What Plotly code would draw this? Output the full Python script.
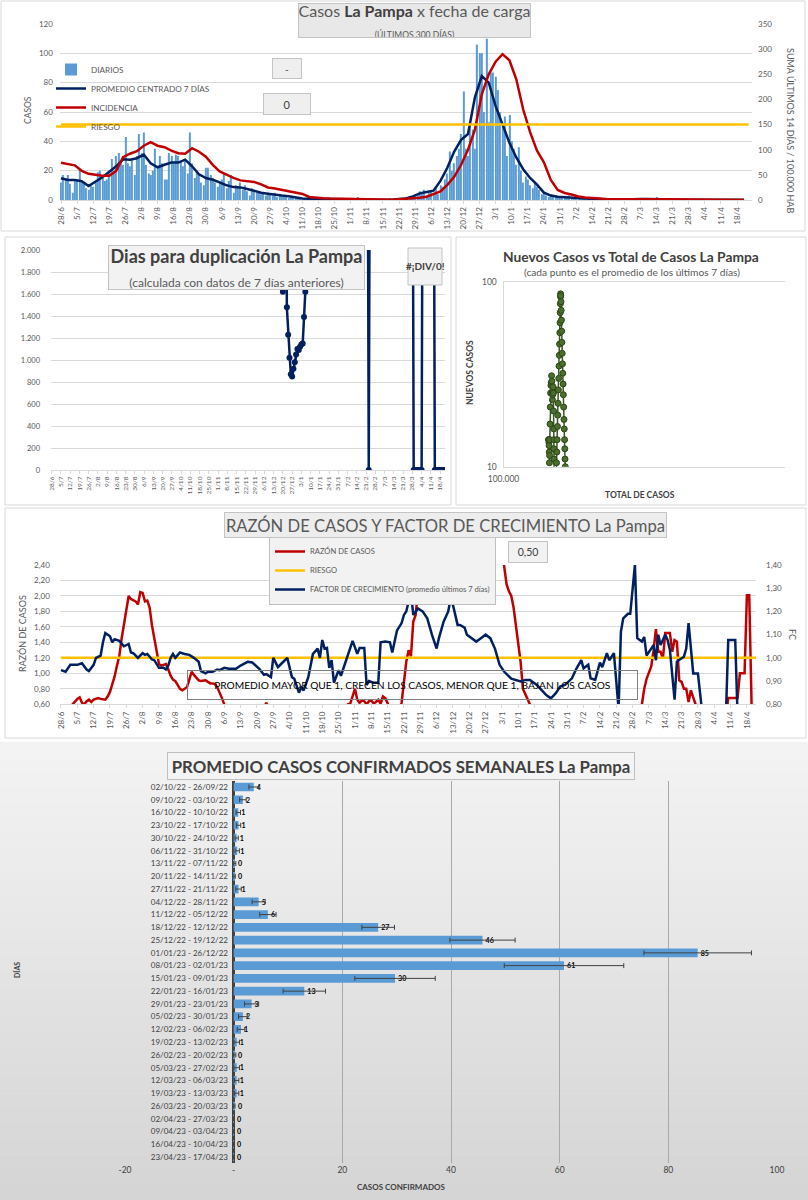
import plotly.graph_objects as go

W, H = 808, 1200
FONT = "Lato"
GREY = "#595959"
DARK = "#404040"
NAVY = "#002060"
RED = "#c00000"
ORANGE = "#ffc000"
BAR_BLUE = "#5b9bd5"
GRID = "#d9d9d9"


def fx(p):
    return p / W


def fy(p):
    return 1 - p / H


# ------------------------------------------------------------------ data
TICK_LABELS = ["28/6", "5/7", "12/7", "19/7", "26/7", "2/8", "9/8", "16/8", "23/8", "30/8",
               "6/9", "13/9", "20/9", "27/9", "4/10", "11/10", "18/10", "25/10", "1/11", "8/11",
               "15/11", "22/11", "29/11", "6/12", "13/12", "20/12", "27/12", "3/1", "10/1", "17/1",
               "24/1", "31/1", "7/2", "14/2", "21/2", "28/2", "7/3", "14/3", "21/3", "28/3",
               "4/4", "11/4", "18/4"]
TICK_DAYS = [7 * i for i in range(len(TICK_LABELS))]

# daily cases (one value per day from 28/6)
DAILY = [
    12, 17, 15, 17, 11, 5, 14,
    13, 21, 12, 11, 8, 7, 10,
    9, 12, 19, 20, 15, 13, 14,
    20, 28, 20, 30, 32, 27, 24,
    43, 25, 23, 28, 17, 30, 45,
    32, 46, 24, 18, 17, 20, 35,
    22, 30, 25, 14, 14, 32, 30,
    26, 31, 30, 26, 23, 28, 18,
    46, 25, 15, 20, 17, 12, 10,
    22, 22, 17, 15, 12, 9, 12,
    14, 18, 8, 13, 17, 5, 10,
    9, 12, 7, 10, 6, 3, 8,
    7, 5, 6, 4, 5, 3, 5,
    4, 3, 5, 2, 4, 3, 2,
    2, 1, 3, 2, 1, 2, 1,
    1, 1, 0, 2, 1, 1, 1,
    1, 2, 0, 1, 1, 1, 0,
    1, 0, 1, 1, 0, 1, 1,
    0, 1, 1, 2, 0, 1, 0,
    0, 0, 1, 0, 0, 0, 0,
    0, 0, 0, 1, 0, 0, 0,
    1, 0, 1, 2, 1, 1, 2,
    3, 4, 6, 5, 7, 3, 5,
    6, 5, 8, 4, 10, 9, 14,
    18, 33, 20, 25, 30, 35, 45,
    74, 35, 30, 52, 48, 35, 106,
    100, 100, 60, 110, 53, 87, 87,
    84, 75, 60, 50, 57, 30, 58,
    40, 35, 24, 36, 20, 12, 16,
    14, 10, 8, 12, 9, 7, 4,
    5, 3, 2, 4, 2, 3, 2,
    1, 2, 2, 1, 3, 1, 1,
    1, 2, 1, 1, 1, 2, 0,
    1, 0, 1, 1, 0, 1, 0,
    0, 0, 0, 0, 0, 0, 1,
    0, 1, 0, 1, 0, 1, 0,
    1, 0, 1, 0, 1, 0, 1,
    2, 0, 1, 0, 0, 0, 0,
    0, 0, 0, 0, 0, 0, 0,
    0, 0, 0, 0, 0, 0, 0,
    0, 0, 0, 0, 0, 0, 0,
    0, 0, 0, 0, 0, 0, 0,
    0, 0, 0, 0, 0, 0,
]
DAYS = list(range(len(DAILY)))

# centred 7-day average, read every 3 days
LINE_DAYS = list(range(0, 300, 3))
AVG7 = [
    14.8, 13.6, 13.6, 12.8, 9.5, 12.5, 15.5, 19.3, 23.0, 27.7,
    27.5, 28.5, 31.0, 25.0, 22.3, 24.0, 25.5, 25.5, 27.5, 23.0,
    17.5, 15.0, 13.8, 12.0, 10.0, 8.8, 8.6, 7.5, 6.2, 5.0,
    4.3, 3.5, 3.0, 2.6, 1.8, 1.1, 0.8, 0.8, 0.9, 0.8,
    0.7, 0.6, 0.7, 0.6, 0.4, 0.2, 0.2, 0.1, 0.2, 0.7,
    1.0, 2.5, 4.5, 5.5, 6.4, 13.0, 22.0, 33.0, 41.0, 45.0,
    70.0, 84.5, 80.0, 64.0, 52.0, 39.0, 29.0, 21.0, 15.0, 10.5,
    5.0, 3.0, 2.2, 1.8, 1.7, 1.2, 1.0, 0.8, 0.5, 0.2,
    0.1, 0.2, 0.5, 0.6, 0.6, 0.6, 0.7, 0.5, 0.3, 0.1,
    0.1, 0.1, 0.1, 0.1, 0.1, 0.1, 0.1, 0.1, 0.1, 0.1,
]
# incidence (14-day sum per 100.000 inhabitants), every 3 days
INCIDENCIA = [
    74, 71, 69, 58, 52, 50, 48, 48, 58, 85,
    92, 97, 108, 115, 108, 105, 98, 93, 92, 103,
    96, 86, 70, 57, 50, 44, 39, 38, 36, 31,
    25, 23, 20, 18, 15, 12, 6, 4.4, 3.5, 2.9,
    2.6, 2.3, 2.3, 2.0, 1.7, 1.2, 0.6, 0.3, 0.6, 1.5,
    2.0, 3.0, 4.5, 6.5, 11, 17, 30, 46, 70, 100,
    140, 210, 250, 275, 290, 278, 240, 180, 135, 98,
    75, 40, 20, 14, 11, 7, 5, 3.5, 2.5, 2.0,
    1.5, 1.3, 1.3, 1.3, 1.3, 1.5, 1.5, 1.5, 1.5, 1.5,
    1.3, 1.0, 0.5, 0.3, 0.2, 0.2, 0.2, 0.2, 0.2, 0.2,
]
RIESGO_INC = 150

# days for doubling (values above 2.000 fall outside the chart)
DUP_DAYS = [175, 176, 177, 178, 179, 180, 181, 182, 183, 184, 185, 186, 187, 188, 189, 190, 191, 192, 193,
            239, 240, 241,
            273, 274, 275, 276, 277, 278, 279, 280, 281,
            289, 290, 291, 292, 293, 294, 295, 296, 297]
DUP_VALS = [1620, 4000, 4000, 1480, 1230, 1020, 870, 850, 920, 980, 1050, 1100, 1090, 1120, 1140, 1150, 1390, 1620, 4000,
            4000, 0, 4000,
            4000, 0, 0, 0, 0, 0, 0, 0, 4000,
            4000, 0, 0, 0, 0, 0, 0, 0, 0]

# new cases vs total cases (7-day averages)
SC_TOTAL = [144600, 144800, 145000, 145200, 145400, 145600, 145800, 146000, 146300, 146600,
            147000, 147400, 147800, 148200, 148600, 148900, 149200, 149500, 149800, 150100,
            150400, 150600, 150800, 150950, 151100, 151200, 151300,
            153900, 154300, 154700, 155100, 155500, 155900, 156300, 156700, 157100, 157500,
            157900, 158200, 158500, 158800, 159000, 159200, 159400, 159500,
            159700, 160000, 160300, 160600, 160900, 161200, 161600, 162000, 162400, 162800,
            163200, 163600, 164000, 164400, 164800, 165100, 165400, 165700, 165900]
SC_NEW = [14, 14, 13.5, 13, 12, 10.5, 11.5, 14, 17, 21,
          25, 27.5, 28.5, 31, 29, 25, 23, 24.5, 26, 27,
          25, 20, 16, 14, 12.5, 11, 9.5,
          9, 10.5, 12, 14, 16.5, 19, 22, 26, 30, 35,
          40, 46, 53, 60, 68, 76, 83, 86,
          84, 78, 70, 62, 54, 47, 41, 36, 32, 28,
          24.5, 21, 18, 16, 14, 12.5, 11, 10, 9]

# case ratio (left axis)
RC_DAYS = [0, 4, 5, 6, 7, 8, 9, 10, 11, 12, 13, 14, 15, 16, 17, 18, 19, 20, 21, 22, 23, 24, 25, 26, 27, 28,
           29, 30, 31, 32, 33, 34, 35, 36, 37, 38, 39, 40, 41, 42, 43, 44, 45, 46, 47, 48, 49, 50, 51, 52,
           53, 54, 55, 56, 57, 58, 59, 60, 61, 62, 63, 64, 65, 66, 67, 68, 69, 70, 71, 80, 87, 88, 89, 92,
           120, 122, 123, 124, 125, 126, 127, 128, 129, 130, 131, 132, 133, 134, 135, 136, 137, 138, 139,
           140, 141, 142, 145, 146, 147, 148, 149, 150, 151, 152, 153, 154, 189, 190, 191, 192, 193, 194,
           195, 196, 197, 198, 199, 200, 201, 202, 248, 249, 250, 251, 252, 253, 254, 255, 256, 257, 258,
           259, 260, 261, 262, 263, 264, 265, 266, 267, 268, 269, 270, 271, 272, 273, 285, 286, 287, 288,
           289, 290, 291, 292, 293, 294, 295, 296, 297]
RC_VALS = [0.45, 0.55, 0.60, 0.64, 0.67, 0.69, 0.62, 0.60, 0.64, 0.66, 0.63, 0.66, 0.67, 0.68, 0.67, 0.66,
           0.66, 0.70, 0.76, 0.86, 0.96, 1.10, 1.22, 1.45, 1.62, 1.80, 2.00, 1.96, 1.94, 1.93, 1.89, 2.05,
           2.04, 1.93, 1.94, 1.85, 1.62, 1.45, 1.30, 1.12, 1.10, 1.11, 1.12, 1.05, 0.97, 0.92, 0.90, 0.85,
           0.80, 0.78, 0.80, 0.82, 0.92, 1.02, 0.98, 0.94, 0.91, 0.90, 0.91, 0.91, 0.89, 0.87, 0.87, 0.86,
           0.82, 0.76, 0.68, 0.60, 0.50, 0.40, 0.55, 0.62, 0.55, 0.40,
           0.40, 0.50, 0.60, 0.61, 0.72, 0.80, 0.66, 0.62, 0.65, 0.64, 0.60, 0.64, 0.65, 0.61, 0.63, 0.66,
           0.61, 0.70, 0.68, 0.62, 0.55, 0.45, 0.50, 0.62, 0.85, 1.15, 1.30, 1.22, 1.67, 1.75, 2.06, 2.60,
           2.60, 2.35, 2.15, 2.06, 2.00, 1.85, 1.62, 1.38, 1.15, 0.80, 0.74, 0.68, 0.60, 0.45,
           0.45, 0.60, 0.80, 0.93, 1.00, 1.09, 1.30, 1.57, 1.28, 1.28, 1.19, 1.52, 1.52, 1.52, 1.28, 1.43,
           1.41, 0.91, 0.89, 0.80, 0.80, 0.63, 0.78, 0.70, 0.60, 0.45,
           0.45, 0.68, 0.68, 0.68, 0.68, 0.68, 1.00, 1.00, 1.00, 2.01, 2.01, 0.60, 0.40]
RIESGO_RC = 1.20

# growth factor (right axis)
FC_DAYS = [0, 2, 4, 7, 9, 11, 12, 14, 15, 17, 18, 19, 21, 22, 23, 25, 27, 29, 30, 31, 33, 35, 36, 37, 39,
           40, 42, 44, 45, 46, 47, 48, 49, 51, 53, 55, 57, 59, 60, 62, 63, 65, 67, 68, 70, 72, 75, 77, 80,
           82, 85, 87, 88, 90, 91, 93, 95, 97, 99, 100, 102, 103, 104, 106, 108, 110, 111, 112, 113, 114,
           115, 116, 117, 119, 120, 122, 125, 127, 128, 130, 131, 132, 134, 136, 137, 139, 141, 142, 144,
           146, 147, 148, 150, 151, 153, 155, 157, 159, 161, 162, 164, 166, 167, 168, 170, 171, 173, 174,
           176, 178, 180, 182, 184, 186, 188, 190, 193, 195, 197, 199, 201, 204, 206, 208, 210, 212, 214,
           216, 219, 221, 223, 224, 226, 227, 229, 231, 232, 234, 235, 237, 239, 240, 241, 243, 244, 246,
           247, 249, 250, 251, 254, 255, 256, 257, 259, 260, 261, 263, 264, 265, 267, 268, 269, 271, 273,
           275, 285, 286, 289, 290, 297]
FC_VALS = [0.947, 0.94, 0.97, 0.97, 0.977, 0.95, 0.943, 0.97, 1.0, 1.01, 1.067, 1.107, 1.093, 1.067, 1.08,
           1.073, 1.05, 1.06, 1.023, 1.02, 1.0, 1.02, 1.013, 1.017, 0.993, 0.99, 0.957, 0.957, 0.95, 0.967,
           1.0, 1.017, 1.0, 1.023, 1.017, 1.013, 1.0, 0.983, 0.943, 0.933, 0.94, 0.94, 0.95, 0.947, 0.957,
           0.953, 0.953, 0.967, 0.983, 0.98, 0.953, 0.927, 0.93, 0.917, 1.0, 0.96, 0.98, 1.0, 0.917, 0.91,
           0.85, 0.873, 0.86, 0.917, 1.017, 1.04, 1.0, 1.077, 1.04, 1.043, 0.957, 0.99, 0.893, 0.947, 0.923,
           0.983, 1.073, 1.017, 1.043, 1.043, 0.883, 0.9, 0.893, 0.893, 1.067, 1.07, 1.067, 1.023, 1.117,
           1.15, 1.185, 1.2, 1.285, 1.185, 1.213, 1.2, 1.17, 1.1, 1.04, 1.085, 1.156, 1.2, 1.256, 1.228,
           1.142, 1.142, 1.13, 1.1, 1.085, 1.07, 1.085, 1.1, 1.085, 1.04, 0.97, 0.94, 0.91, 0.905, 0.898,
           0.905, 0.905, 0.883, 0.862, 0.84, 0.826, 0.847, 0.876, 0.883, 0.912, 0.955, 0.99, 0.955, 0.97,
           0.912, 0.905, 0.98, 0.96, 1.02, 0.99, 1.02, 0.78, 1.113, 1.17, 1.19, 1.19, 1.4, 1.085, 1.07,
           1.09, 1.01, 1.055, 0.99, 1.1, 1.055, 1.1, 1.077, 1.034, 0.82, 0.984, 0.99, 1.005, 1.04, 1.15,
           0.933, 0.933, 0.75, 0.75, 1.077, 1.077, 0.75, 0.75]

# weekly averages
WEEKS = ["02/10/22 - 26/09/22", "09/10/22 - 03/10/22", "16/10/22 - 10/10/22", "23/10/22 - 17/10/22",
         "30/10/22 - 24/10/22", "06/11/22 - 31/10/22", "13/11/22 - 07/11/22", "20/11/22 - 14/11/22",
         "27/11/22 - 21/11/22", "04/12/22 - 28/11/22", "11/12/22 - 05/12/22", "18/12/22 - 12/12/22",
         "25/12/22 - 19/12/22", "01/01/23 - 26/12/22", "08/01/23 - 02/01/23", "15/01/23 - 09/01/23",
         "22/01/23 - 16/01/23", "29/01/23 - 23/01/23", "05/02/23 - 30/01/23", "12/02/23 - 06/02/23",
         "19/02/23 - 13/02/23", "26/02/23 - 20/02/23", "05/03/23 - 27/02/23", "12/03/23 - 06/03/23",
         "19/03/23 - 13/03/23", "26/03/23 - 20/03/23", "02/04/23 - 27/03/23", "09/04/23 - 03/04/23",
         "16/04/23 - 10/04/23", "23/04/23 - 17/04/23"]
WEEK_AVG = [3.7, 1.7, 0.85, 0.9, 0.55, 0.65, 0.2, 0.1, 0.9, 4.6, 6.3, 26.6, 45.8, 85.4, 60.8, 29.7, 13.0,
            3.3, 1.7, 1.35, 0.57, 0.2, 0.57, 0.55, 0.55, 0.1, 0.05, 0.05, 0.05, 0.05]
WEEK_ERR = [0.9, 0.6, 0.4, 0.4, 0.3, 0.4, 0.2, 0.2, 0.5, 1.2, 1.5, 3.0, 6.0, 9.9, 11.0, 7.4, 3.9, 1.3, 0.8,
            0.7, 0.5, 0.2, 0.5, 0.4, 0.4, 0.15, 0.1, 0.1, 0.1, 0.1]
WEEK_TXT = ["4", "2", "1", "1", "1", "1", "0", "0", "1", "5", "6", "27", "46", "85", "61", "30", "13", "3",
            "2", "1", "1", "0", "1", "1", "1", "0", "0", "0", "0", "0"]

# ------------------------------------------------------------------ traces
fig = go.Figure()

# panel 1
fig.add_trace(go.Bar(x=DAYS, y=DAILY, width=0.45, marker=dict(color=BAR_BLUE, line=dict(width=0)),
                     name="DIARIOS", xaxis="x", yaxis="y", legend="legend"))
fig.add_trace(go.Scatter(x=LINE_DAYS, y=AVG7, mode="lines", line=dict(color=NAVY, width=2.5),
                         name="PROMEDIO CENTRADO 7 DÍAS", xaxis="x", yaxis="y", legend="legend"))
fig.add_trace(go.Scatter(x=LINE_DAYS, y=INCIDENCIA, mode="lines", line=dict(color=RED, width=2.5),
                         name="INCIDENCIA", xaxis="x", yaxis="y2", legend="legend"))
fig.add_trace(go.Scatter(x=DAYS, y=[RIESGO_INC] * len(DAYS), mode="lines", line=dict(color=ORANGE, width=2.5),
                         name="RIESGO", xaxis="x", yaxis="y2", legend="legend"))

# panel 2
fig.add_trace(go.Scatter(x=DUP_DAYS, y=DUP_VALS, mode="lines+markers",
                         line=dict(color=NAVY, width=2.5), marker=dict(color=NAVY, size=6),
                         showlegend=False, xaxis="x2", yaxis="y3"))

# panel 3
fig.add_trace(go.Scatter(x=SC_TOTAL, y=SC_NEW, mode="lines+markers",
                         line=dict(color="#385723", width=1.5),
                         marker=dict(color="#4a6e2c", size=6, line=dict(color="#2d4519", width=1)),
                         showlegend=False, xaxis="x3", yaxis="y4"))

# panel 4
fig.add_trace(go.Scatter(x=RC_DAYS, y=RC_VALS, mode="lines", line=dict(color=RED, width=2.5),
                         name="RAZÓN DE CASOS", xaxis="x4", yaxis="y5", legend="legend2"))
fig.add_trace(go.Scatter(x=DAYS, y=[RIESGO_RC] * len(DAYS), mode="lines", line=dict(color=ORANGE, width=2.5),
                         name="RIESGO", xaxis="x4", yaxis="y5", legend="legend2"))
fig.add_trace(go.Scatter(x=FC_DAYS, y=FC_VALS, mode="lines", line=dict(color=NAVY, width=2.5),
                         name="FACTOR DE CRECIMIENTO (promedio últimos 7 días)", xaxis="x4", yaxis="y6",
                         legend="legend2"))

# panel 5
fig.add_trace(go.Bar(y=WEEKS, x=WEEK_AVG, orientation="h", width=0.68,
                     marker=dict(color=BAR_BLUE, line=dict(width=0)),
                     error_x=dict(type="data", array=WEEK_ERR, color="#404040", thickness=1, width=2.5),
                     text=WEEK_TXT, textposition="outside",
                     textfont=dict(family=FONT, size=9, color="black", weight="bold"),
                     cliponaxis=False, showlegend=False, xaxis="x5", yaxis="y7"))

# ------------------------------------------------------------------ layout
tick_font = dict(family=FONT, size=8, color=GREY)
date_axis = dict(tickvals=TICK_DAYS, ticktext=TICK_LABELS, tickangle=-90, showgrid=False,
                 showline=True, linecolor=GRID, ticks="outside", ticklen=3, tickcolor=GRID,
                 zeroline=False, fixedrange=True, automargin=False)

shapes = []
# gradient background of bottom panel
n_str = 30
for i in range(n_str):
    y0 = 742 + i * 458 / n_str
    y1 = y0 + 458 / n_str + 0.6
    c = int(round(243 - (243 - 213) * i / (n_str - 1)))
    shapes.append(dict(type="rect", xref="paper", yref="paper", x0=0, x1=1, y0=fy(y1), y1=fy(y0),
                       fillcolor=f"rgb({c},{c},{c})", line=dict(width=0), layer="below"))
# panel frames
for (a, b, c2, d) in [(1, 1, 805, 231), (5, 237, 451, 505), (456, 237, 806, 505), (5, 508, 806, 738)]:
    shapes.append(dict(type="rect", xref="paper", yref="paper", x0=fx(a), x1=fx(c2), y0=fy(d), y1=fy(b),
                       line=dict(color=GRID, width=1), fillcolor="rgba(0,0,0,0)", layer="below"))
# "#¡DIV/0!" box
shapes.append(dict(type="rect", xref="paper", yref="paper", x0=fx(408), x1=fx(442), y0=fy(285), y1=fy(248),
                   line=dict(color="#c4c4c4", width=1), fillcolor="#f2f2f2", layer="above"))


def box(x0, y0, x1, y1, text, size, color=DARK, bg="#ececec", border="#c4c4c4"):
    return dict(xref="paper", yref="paper", x=fx((x0 + x1) / 2), y=fy((y0 + y1) / 2),
                xanchor="center", yanchor="middle", width=x1 - x0 - 2, height=y1 - y0 - 2,
                text=text, showarrow=False, font=dict(family=FONT, size=size, color=color),
                bgcolor=bg, bordercolor=border, borderwidth=1, borderpad=0)


def label(x, y, text, size, angle=0, color=GREY):
    return dict(xref="paper", yref="paper", x=fx(x), y=fy(y), xanchor="center", yanchor="middle",
                text=text, showarrow=False, textangle=angle, font=dict(family=FONT, size=size, color=color))


annotations = [
    box(298, 3, 531, 38,
        "Casos <b style='color:#404040'>La Pampa</b> x fecha de carga<br>"
        "<span style='font-size:8.5px'>(ÚLTIMOS 300 DÍAS)</span>", 16, color=GREY, bg="#e8e8e8"),
    box(272, 58, 302, 79, "-", 10, bg="#efefef"),
    box(263, 93, 311, 115, "0", 11, bg="#efefef"),
    label(28, 110, "CASOS", 8.5, -90),
    label(791, 130, "SUMA ÚLTIMOS 14 DÍAS / 100.000 HAB", 9, 90),

    box(108, 245, 365, 290,
        "<b>Dias para duplicación La Pampa</b><br>"
        "<span style='font-size:12px;color:#595959'>(calculada con datos de 7 días anteriores)</span>",
        18, color=DARK, bg="#f2f2f2"),
    label(425, 266, "<b>#¡DIV/0!</b>", 10, color=DARK),

    label(631, 256, "<b>Nuevos Casos vs Total de Casos La Pampa</b>", 13.8, color=DARK),
    label(632, 272, "(cada punto es el promedio de los últimos 7 días)", 10.2),
    label(470, 372, "<b>NUEVOS CASOS</b>", 8.5, -90, color=DARK),
    label(640, 495, "<b>TOTAL DE CASOS</b>", 8.5, color=DARK),

    box(224, 512, 667, 538, "RAZÓN DE CASOS Y FACTOR DE CRECIMIENTO La Pampa", 16.6, color=GREY, bg="#ededed"),
    box(508, 541, 548, 563, "0,50", 10.5, color=DARK, bg="#f2f2f2"),
    box(187, 670, 638, 700, "PROMEDIO MAYOR QUE 1, CRECEN LOS CASOS, MENOR QUE 1, BAJAN LOS CASOS", 10.2,
        color="black", bg="rgba(0,0,0,0)", border="#7f7f7f"),
    label(22, 634, "RAZÓN DE CASOS", 9, -90),
    label(793, 634, "FC", 9, 90),

    box(167, 752, 635, 780, "<b>PROMEDIO CASOS CONFIRMADOS SEMANALES La Pampa</b>", 16.8, color=DARK,
        bg="#f4f4f4", border="#bfbfbf"),
    label(17, 970, "<b>DÍAS</b>", 7, -90, color=DARK),
    label(401, 1187, "<b>CASOS CONFIRMADOS</b>", 8, color=DARK),
]

fig.update_layout(
    width=W, height=H, margin=dict(l=0, r=0, t=0, b=0, autoexpand=False),
    paper_bgcolor="white", plot_bgcolor="rgba(0,0,0,0)",
    separators=",.",
    font=dict(family=FONT, color=GREY),
    shapes=shapes, annotations=annotations,
    legend=dict(x=fx(51), y=fy(55), xanchor="left", yanchor="top", bgcolor="rgba(0,0,0,0)",
                font=dict(family=FONT, size=8.2, color=GREY), tracegroupgap=0, itemwidth=30,
                traceorder="normal"),
    legend2=dict(x=fx(269), y=fy(536), xanchor="left", yanchor="top", bgcolor="#f2f2f2",
                 bordercolor="#bfbfbf", borderwidth=1, font=dict(family=FONT, size=7.6, color=GREY),
                 tracegroupgap=0, itemwidth=30, traceorder="normal"),
    # panel 1
    xaxis=dict(domain=[fx(59.85), fx(752)], range=[-0.5, 300.5], anchor="y", tickfont=tick_font, **date_axis),
    yaxis=dict(domain=[fy(200), fy(24)], range=[0, 120], dtick=20, gridcolor=GRID, zeroline=False,
               tickfont=tick_font, anchor="x", ticklabelstandoff=6, fixedrange=True, automargin=False),
    yaxis2=dict(overlaying="y", side="right", range=[0, 350], dtick=50, showgrid=False, zeroline=False,
                tickfont=tick_font, anchor="x", ticklabelstandoff=5, fixedrange=True, automargin=False),
    # panel 2
    xaxis2=dict(domain=[fx(51), fx(445)], range=[-0.5, 297.7], anchor="y3",
                tickfont=dict(family=FONT, size=6.5, color=GREY), **date_axis),
    yaxis3=dict(domain=[fy(470), fy(250)], range=[0, 2000], dtick=200, tickformat=",.0f", gridcolor=GRID,
                zeroline=False, tickfont=dict(family=FONT, size=7.5, color=GREY), anchor="x2",
                ticklabelstandoff=10, fixedrange=True, automargin=False),
    # panel 3
    xaxis3=dict(domain=[fx(503.5), fx(785)], type="log", range=[5, 6], tickvals=[100000], ticktext=["100.000"],
                showgrid=True, gridcolor=GRID, showline=True, linecolor=GRID, mirror=True, zeroline=False,
                tickfont=dict(family=FONT, size=8.5, color=GREY), anchor="y4", ticklabelstandoff=4,
                fixedrange=True, automargin=False),
    yaxis4=dict(domain=[fy(466.7), fy(281.7)], type="log", range=[1, 2], tickvals=[10, 100],
                ticktext=["10", "100"], showgrid=True, gridcolor=GRID, showline=True, linecolor=GRID,
                zeroline=False, tickfont=dict(family=FONT, size=8.5, color=GREY), anchor="x3",
                ticklabelstandoff=4, fixedrange=True, automargin=False),
    # panel 4
    xaxis4=dict(domain=[fx(59.8), fx(756)], range=[-0.5, 297.9], anchor="y5", tickfont=tick_font, **date_axis),
    yaxis5=dict(domain=[fy(704.3), fy(565)], range=[0.6, 2.4], dtick=0.2, tickformat=".2f", gridcolor=GRID,
                zeroline=False, tickfont=tick_font, anchor="x4", ticklabelstandoff=9, fixedrange=True,
                automargin=False),
    yaxis6=dict(overlaying="y5", side="right", range=[0.8, 1.4], dtick=0.1, tickformat=".2f", showgrid=False,
                zeroline=False, tickfont=tick_font, anchor="x4", ticklabelstandoff=9, fixedrange=True,
                automargin=False),
    # panel 5
    xaxis5=dict(domain=[fx(125), fx(777)], range=[-20, 100], tickvals=[-20, 0, 20, 40, 60, 80, 100],
                ticktext=["-20", "-", "20", "40", "60", "80", "100"], showgrid=True, gridcolor="#a9a9a9",
                zeroline=True, zerolinecolor="#404040", zerolinewidth=2.5, showline=False,
                tickfont=dict(family=FONT, size=8.5, color=DARK), anchor="y7", fixedrange=True,
                automargin=False),
    yaxis7=dict(domain=[fy(1163.4), fy(780.6)], autorange="reversed", anchor="free", position=fx(234),
                showgrid=False, showline=False, zeroline=False, ticks="",
                tickfont=dict(family=FONT, size=8, color=DARK), ticklabelstandoff=6, fixedrange=True,
                automargin=False),
)

fig.write_html("out.html", config={"displayModeBar": False},
               post_script="document.body.style.margin='0px';")
